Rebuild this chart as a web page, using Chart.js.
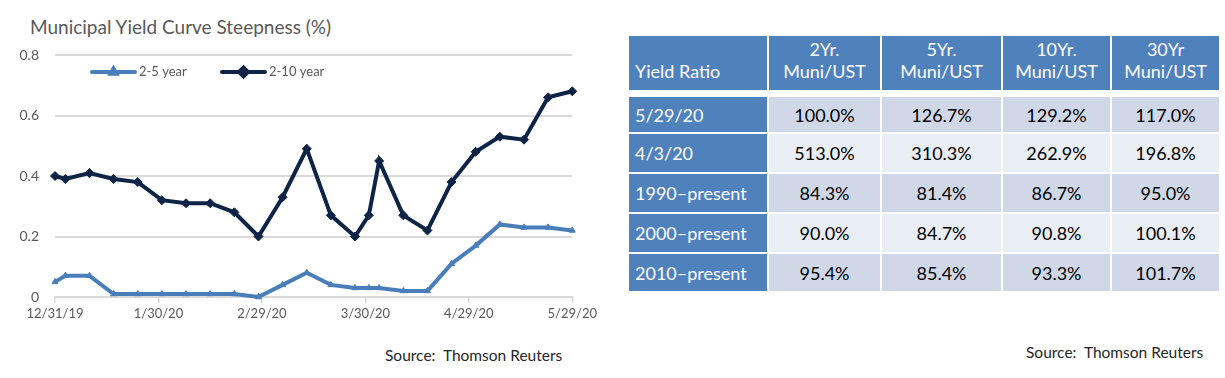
<!DOCTYPE html>
<html>
<head>
<meta charset="utf-8">
<script src="https://cdn.jsdelivr.net/npm/chart.js@4.4.1/dist/chart.umd.min.js"></script>
<style>
  html, body { margin: 0; padding: 0; background: #ffffff; }
  body { width: 1225px; height: 378px; position: relative; overflow: hidden; font-family: Lato, "Liberation Sans", sans-serif; }
  #title { position: absolute; left: 30px; top: 15px; font-size: 19px; color: #595959; white-space: nowrap; }
  #chartBox { position: absolute; left: 0; top: 0; width: 600px; height: 340px; }
  .src { position: absolute; font-size: 15.5px; color: #262626; white-space: nowrap; }
  .cell { position: absolute; box-sizing: border-box; font-size: 18px; white-space: nowrap; display: flex; }
  .hdr { background: #4f81bd; color: #ffffff; flex-direction: column; justify-content: flex-end; align-items: center; padding-bottom: 8px; line-height: 22px; }
  .hdr.first { align-items: flex-start; padding-left: 6px; }
  .lab { background: #4f81bd; color: #ffffff; align-items: center; padding-left: 6px; }
  .val { color: #000000; align-items: center; justify-content: center; }
  .odd { background: #d0d8e8; }
  .even { background: #e9edf4; }
</style>
</head>
<body>
<div id="title">Municipal Yield Curve Steepness (%)</div>
<div id="chartBox"><canvas id="c"></canvas></div>
<div class="src" id="srcL" style="left:385px; top:346px;">Source:&nbsp; Thomson Reuters</div>
<div class="src" id="srcR" style="left:1026px; top:343px;">Source:&nbsp; Thomson Reuters</div>
<div id="table"></div>
<script>
// ---------- chart data ----------
const dates = ['2019-12-31','2020-01-03','2020-01-10','2020-01-17','2020-01-24','2020-01-31',
  '2020-02-07','2020-02-14','2020-02-21','2020-02-28','2020-03-06','2020-03-13','2020-03-20',
  '2020-03-27','2020-03-31','2020-04-03','2020-04-10','2020-04-17','2020-04-24','2020-05-01',
  '2020-05-08','2020-05-15','2020-05-22','2020-05-29'];
const series25 = [0.05,0.07,0.07,0.01,0.01,0.01,0.01,0.01,0.01,0.00,0.04,0.08,0.04,
  0.03,0.03,0.03,0.02,0.02,0.11,0.17,0.24,0.23,0.23,0.22];
const series210 = [0.40,0.39,0.41,0.39,0.38,0.32,0.31,0.31,0.28,0.20,0.33,0.49,0.27,
  0.20,0.27,0.45,0.27,0.22,0.38,0.48,0.53,0.52,0.66,0.68];
const seriesNames = ['2-5 year','2-10 year'];
const xTickDays = [0,30,60,90,120,150];
const yTicks = [0,0.2,0.4,0.6,0.8];

// ---------- table data ----------
const tableTitle = 'Yield Ratio';
const colHeaders = [['2Yr.','Muni/UST'],['5Yr.','Muni/UST'],['10Yr.','Muni/UST'],['30Yr','Muni/UST']];
const rowLabels = ['5/29/20','4/3/20','1990\u2013present','2000\u2013present','2010\u2013present'];
const ratio2Yr  = [100.0, 513.0, 84.3, 90.0, 95.4];
const ratio5Yr  = [126.7, 310.3, 81.4, 84.7, 85.4];
const ratio10Yr = [129.2, 262.9, 86.7, 90.8, 93.3];
const ratio30Yr = [117.0, 196.8, 95.0, 100.1, 101.7];

// ---------- build table ----------
(function(){
  const cols = [[629,767],[769,880],[882,1001],[1003,1110],[1112,1219]];
  const hdrRow = [36,90];
  const rows = [[97,132],[134,172],[174,212],[214,252],[254,291]];
  const t = document.getElementById('table');
  function cell(cls, x0, x1, y0, y1, html){
    const d = document.createElement('div');
    d.className = 'cell ' + cls;
    d.style.left = x0 + 'px'; d.style.top = y0 + 'px';
    d.style.width = (x1 - x0) + 'px'; d.style.height = (y1 - y0) + 'px';
    d.innerHTML = html;
    t.appendChild(d);
  }
  cell('hdr first', cols[0][0], cols[0][1], hdrRow[0], hdrRow[1], '<div>' + tableTitle + '</div>');
  colHeaders.forEach((h, i) => {
    cell('hdr', cols[i+1][0], cols[i+1][1], hdrRow[0], hdrRow[1], h.map(s => '<div>' + s + '</div>').join(''));
  });
  const colsData = [ratio2Yr, ratio5Yr, ratio10Yr, ratio30Yr];
  rowLabels.forEach((lab, r) => {
    cell('lab', cols[0][0], cols[0][1], rows[r][0], rows[r][1], lab);
    colsData.forEach((arr, c) => {
      cell('val ' + (r % 2 === 0 ? 'odd' : 'even'), cols[c+1][0], cols[c+1][1], rows[r][0], rows[r][1], arr[r].toFixed(1) + '%');
    });
  });
})();

// ---------- chart ----------
const DAY = 86400000;
const t0 = Date.parse(dates[0] + 'T00:00:00Z');
const dayOf = s => Math.round((Date.parse(s + 'T00:00:00Z') - t0) / DAY);
const fmtDay = d => { const dt = new Date(t0 + d * DAY); return (dt.getUTCMonth()+1) + '/' + dt.getUTCDate() + '/' + String(dt.getUTCFullYear()).slice(2); };

const LIGHT = '#4a7ebb';
const DARK = '#0d2447';

const legendPlugin = {
  id: 'inlineLegend',
  afterDatasetsDraw(chart) {
    const ctx = chart.ctx;
    const items = [{x: 92, ds: 0}, {x: 222, ds: 1}];
    const y = 72;
    ctx.save();
    items.forEach(it => {
      const ds = chart.data.datasets[it.ds];
      ctx.strokeStyle = ds.borderColor;
      ctx.lineWidth = 4;
      ctx.lineCap = 'round';
      ctx.beginPath(); ctx.moveTo(it.x, y); ctx.lineTo(it.x + 43, y); ctx.stroke();
      ctx.fillStyle = ds.borderColor;
      ctx.strokeStyle = ds.borderColor;
      Chart.helpers.drawPoint(ctx, {pointStyle: ds.pointStyle, radius: ds.pointRadius, borderWidth: 1, rotation: 0}, it.x + 21.5, y);
      ctx.fill();
      ctx.fillStyle = '#595959';
      ctx.font = '13px Lato';
      ctx.textBaseline = 'middle';
      ctx.textAlign = 'left';
      ctx.fillText(ds.label, it.x + 47, y);
    });
    ctx.restore();
  }
};

function draw(){
  Chart.defaults.font.family = 'Lato, "Liberation Sans", sans-serif';
  new Chart(document.getElementById('c'), {
    type: 'line',
    data: {
      datasets: [
        { label: seriesNames[0], data: dates.map((d, i) => ({x: dayOf(d), y: series25[i]})),
          borderColor: LIGHT, backgroundColor: LIGHT, borderWidth: 4, pointStyle: 'triangle',
          pointRadius: 3.5, pointBorderWidth: 1, tension: 0, clip: false },
        { label: seriesNames[1], data: dates.map((d, i) => ({x: dayOf(d), y: series210[i]})),
          borderColor: DARK, backgroundColor: DARK, borderWidth: 4, pointStyle: 'rectRot',
          pointRadius: 4.5, pointBorderWidth: 1, tension: 0, clip: false }
      ]
    },
    options: {
      responsive: true,
      maintainAspectRatio: false,
      animation: false,
      events: [],
      layout: { padding: { left: 0, right: 25, top: 55, bottom: 0 } },
      plugins: { legend: { display: false }, tooltip: { enabled: false }, title: { display: false } },
      scales: {
        x: {
          type: 'linear', min: 0, max: 150,
          afterFit: s => { s.height = 43; },
          afterBuildTicks: s => { s.ticks = xTickDays.map(v => ({value: v})); },
          ticks: { callback: v => fmtDay(v), color: '#595959', font: { size: 13 }, padding: 3, maxRotation: 0, autoSkip: false },
          grid: { drawOnChartArea: false, drawTicks: true, tickLength: 6, color: '#d9d9d9', lineWidth: 1.5 },
          border: { display: true, color: '#d9d9d9', width: 2 }
        },
        y: {
          min: 0, max: 0.8,
          afterFit: s => { s.width = 55; },
          afterBuildTicks: s => { s.ticks = yTicks.map(v => ({value: v})); },
          ticks: { callback: v => v === 0 ? '0' : v.toFixed(1), color: '#595959', font: { size: 14 }, padding: 16 },
          grid: { drawTicks: false, color: '#d9d9d9', lineWidth: 2 },
          border: { display: false }
        }
      }
    },
    plugins: [legendPlugin]
  });
}
if (document.fonts && document.fonts.load) {
  Promise.all([document.fonts.load('13px Lato'), document.fonts.load('bold 13px Lato')]).then(draw, draw);
} else { draw(); }
</script>
</body>
</html>
